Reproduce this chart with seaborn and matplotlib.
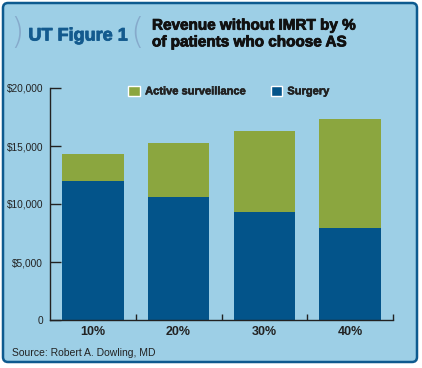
import matplotlib
matplotlib.use("Agg")
import matplotlib.pyplot as plt
import seaborn as sns
import pandas as pd
from matplotlib.patches import FancyBboxPatch, Patch
from matplotlib.ticker import FuncFormatter, FixedLocator
from matplotlib import font_manager
import matplotlib.patheffects as pe

categories = ["10%", "20%", "30%", "40%"]
surgery = [12000, 10600, 9300, 7900]
active_surveillance = [2300, 4700, 7000, 9400]
y_ticks = [0, 5000, 10000, 15000, 20000]

sns.set_theme(style="white")
names = {f.name for f in font_manager.fontManager.ttflist}
cond = "Liberation Sans Narrow" if "Liberation Sans Narrow" in names else "Liberation Sans"
plt.rcParams['font.family'] = ['Liberation Sans', 'DejaVu Sans']

BG = "#9dcfe6"
BLUE = "#03548a"
GREEN = "#8ba63f"
FRAME = "#0d5a8f"

df = pd.DataFrame({"cat": categories, "surgery": surgery, "as": active_surveillance})
df["total"] = df["surgery"] + df["as"]

fig = plt.figure(figsize=(4.22, 3.68), dpi=100)
fig.patch.set_facecolor("white")

bg = fig.add_axes([0, 0, 1, 1], zorder=-10)
bg.set_xlim(0, 422)
bg.set_ylim(368, 0)
bg.axis("off")
bg.add_patch(FancyBboxPatch((3, 3), 414, 359, boxstyle="round,pad=0,rounding_size=5",
                            facecolor=BG, edgecolor=FRAME, linewidth=1.8))

ax = fig.add_axes([50 / 422, 1 - 320 / 368, 343 / 422, 232 / 368], zorder=1)
ax.set_facecolor("none")
sns.barplot(data=df, x="cat", y="total", color=GREEN, width=0.72, ax=ax,
            saturation=1, edgecolor="none")
sns.barplot(data=df, x="cat", y="surgery", color=BLUE, width=0.72, ax=ax,
            saturation=1, edgecolor="none")
ax.set_xlim(-0.5, 3.5)
ax.set_ylim(0, 20000)
ax.set_xlabel("")
ax.set_ylabel("")
for s in ["top", "right"]:
    ax.spines[s].set_visible(False)
for s in ["left", "bottom"]:
    ax.spines[s].set_color("#222222")
    ax.spines[s].set_linewidth(1.0)

ax.yaxis.set_major_locator(FixedLocator(y_ticks))
ax.yaxis.set_major_formatter(FuncFormatter(lambda v, p: "0" if v == 0 else f"${v:,.0f}"))
ax.tick_params(axis="y", direction="in", length=8, width=1, color="#222222",
               labelsize=7.3, pad=5, labelcolor="#222222", left=True)
ax.tick_params(axis="x", which="major", length=0, pad=4)
for lab in ax.get_xticklabels():
    lab.set_fontweight("bold")
    lab.set_fontsize(9)
    lab.set_color("#222222")
ax.set_xticks([0.5, 1.5, 2.5, 3.5], minor=True)
ax.tick_params(axis="x", which="minor", direction="in", length=4, width=1,
               color="#222222", bottom=True)

handles = [Patch(facecolor=GREEN, label="Active surveillance"),
           Patch(facecolor=BLUE, label="Surgery")]
leg = fig.legend(handles=handles, loc="center", bbox_to_anchor=(229 / 422, 1 - 91 / 368),
                 ncol=2, frameon=False, handlelength=1.0, handleheight=1.0,
                 handletextpad=0.5, columnspacing=2.2,
                 prop={"family": cond, "weight": "bold", "size": 8})
for t in leg.get_texts():
    t.set_color("#222222")
    t.set_path_effects([pe.withStroke(linewidth=0.4, foreground="#222222")])

fig.text(17 / 422, 1 - 33 / 368, ")", fontsize=25, color="#86aacb",
         ha="center", va="center", family="DejaVu Sans", fontweight="light")
fig.text(78 / 422, 1 - 36 / 368, "UT Figure 1", fontsize=13, color="#135a8e",
         ha="center", va="center", family=cond, fontweight="bold",
         path_effects=[pe.withStroke(linewidth=0.6, foreground="#135a8e")])
fig.text(137 / 422, 1 - 33 / 368, "(", fontsize=25, color="#86aacb",
         ha="center", va="center", family="DejaVu Sans", fontweight="light")
fig.text(152 / 422, 1 - 34 / 368, "Revenue without IMRT by %\nof patients who choose AS",
         fontsize=11, color="#111111", ha="left", va="center", family=cond,
         fontweight="bold", linespacing=1.25,
         path_effects=[pe.withStroke(linewidth=0.6, foreground="#111111")])
fig.text(12 / 422, 1 - 353 / 368, "Source: Robert A. Dowling, MD", fontsize=7.5,
         color="#222222", ha="left", va="center")

fig.savefig("out.png", dpi=100, facecolor="white")
